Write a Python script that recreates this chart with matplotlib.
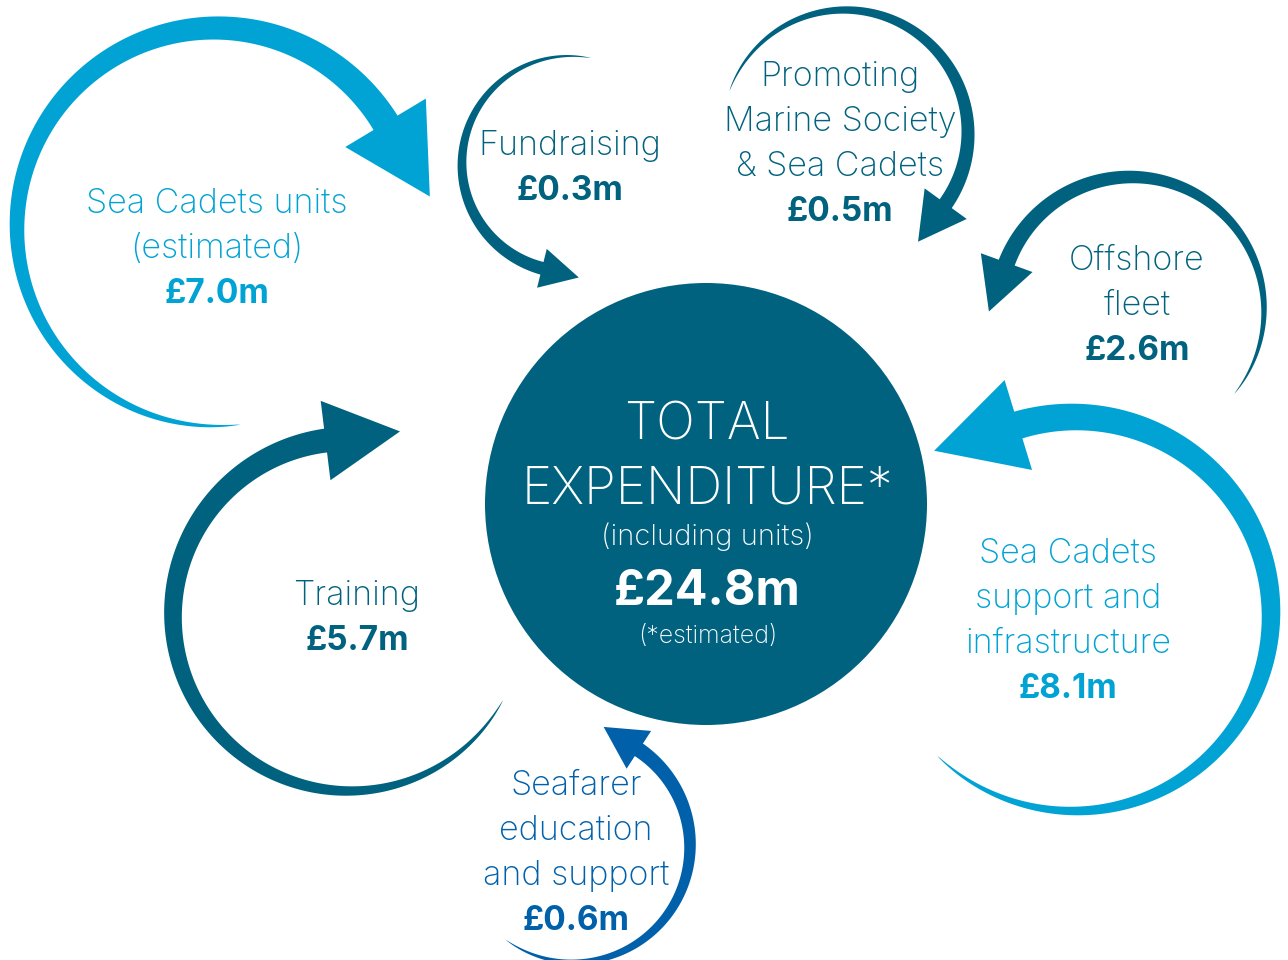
import numpy as np
import matplotlib
matplotlib.use("Agg")
import matplotlib.pyplot as plt
from matplotlib.patches import Polygon, Circle

# colours
LIGHT = '#00A3D4'
DARK = '#00627F'
BLUE = '#0060AA'

# expenditure segments
labels = [
    ['Sea Cadets units', '(estimated)'],
    ['Fundraising'],
    ['Promoting', 'Marine Society', '& Sea Cadets'],
    ['Offshore', 'fleet'],
    ['Sea Cadets', 'support and', 'infrastructure'],
    ['Seafarer', 'education', 'and support'],
    ['Training'],
]
values = ['£7.0m', '£0.3m', '£0.5m', '£2.6m', '£8.1m', '£0.6m', '£5.7m']
colors = [LIGHT, DARK, DARK, DARK, LIGHT, BLUE, DARK]

total_lines = ['TOTAL', 'EXPENDITURE*', '(including units)']
total_value = '£24.8m'
total_note = '(*estimated)'

# layout of each arrow: centre x, centre y, radius, start angle, end angle,
# shaft width at head, head length, head width (pixels, degrees)
arrow_geom = [
    (216, 227, 199, 277, 31, 28, 86, 94),
    (570, 164, 108, 79, 256, 13, 38, 40),
    (845, 133, 123, 160, -36, 15, 47, 52),
    (1131, 310, 133, -39, 160, 17, 52, 55),
    (1074, 614, 197, -134, 107, 28, 88, 94),
    (574, 846, 116, -126, 57, 15, 42, 45),
    (349, 615, 176, 331, 97, 24, 75, 80),
]
# text: x centre, first baseline y
text_pos = [
    (217, 213), (570, 155), (840, 86), (1137, 270),
    (1068, 563), (576, 795), (357, 605),
]
LINE_STEP = 45

FONT = ['Inter', 'DejaVu Sans']


def arc_arrow(ax, cx, cy, r, a0, a1, wmax, hlen, hwid, color, p=0.7):
    n = 300
    th = np.radians(np.linspace(a0, a1, n))
    t = np.linspace(0, 1, n)
    w = wmax * t ** p
    ro = r + w / 2
    ri = r - w / 2
    outer = np.c_[cx + ro * np.cos(th), cy - ro * np.sin(th)]
    inner = np.c_[cx + ri * np.cos(th), cy - ri * np.sin(th)]
    ax.add_patch(Polygon(np.vstack([outer, inner[::-1]]), closed=True,
                         fc=color, ec='none'))
    # arrow head
    e = th[-1]
    s = np.sign(a1 - a0)
    bx, by = cx + r * np.cos(e), cy - r * np.sin(e)
    tx, ty = -np.sin(e) * s, -np.cos(e) * s
    nx, ny = np.cos(e), -np.sin(e)
    bx -= tx * 2
    by -= ty * 2
    head = [(bx + hwid / 2 * nx, by + hwid / 2 * ny),
            (bx + hlen * tx, by + hlen * ty),
            (bx - hwid / 2 * nx, by - hwid / 2 * ny)]
    ax.add_patch(Polygon(head, closed=True, fc=color, ec='none'))


fig = plt.figure(figsize=(12.88, 9.6), dpi=100)
ax = fig.add_axes([0, 0, 1, 1])
ax.set_xlim(0, 1288)
ax.set_ylim(960, 0)
ax.axis('off')

for g, col in zip(arrow_geom, colors):
    arc_arrow(ax, *g, col)

# centre circle
ax.add_patch(Circle((706, 504), 221, fc=DARK, ec='none'))

for lines, val, col, (x, y) in zip(labels, values, colors, text_pos):
    for i, ln in enumerate(lines):
        ax.text(x, y + i * LINE_STEP, ln, ha='center', va='baseline',
                fontsize=24.5, color=col, family=FONT, fontweight='light')
    ax.text(x, y + len(lines) * LINE_STEP, val, ha='center', va='baseline',
            fontsize=24, color=col, family=FONT, fontweight='bold')

ax.text(707, 439, total_lines[0], ha='center', va='baseline', fontsize=37,
        color='white', family=FONT, fontweight='light')
ax.text(707, 503, total_lines[1], ha='center', va='baseline', fontsize=37,
        color='white', family=FONT, fontweight='light')
ax.text(707, 545, total_lines[2], ha='center', va='baseline', fontsize=21,
        color='white', family=FONT, fontweight='light')
ax.text(707, 605, total_value, ha='center', va='baseline', fontsize=35,
        color='white', family=FONT, fontweight='bold')
ax.text(708, 643, total_note, ha='center', va='baseline', fontsize=18,
        color='white', family=FONT, fontweight='light')

fig.savefig('out.png', dpi=100)
